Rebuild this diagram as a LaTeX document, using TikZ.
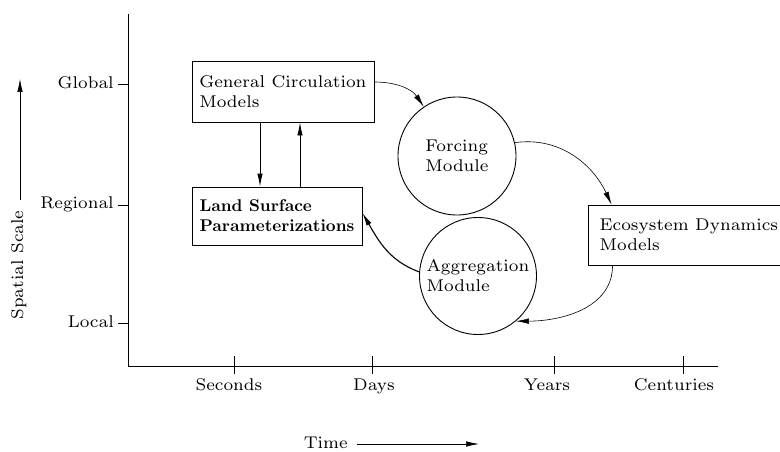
\documentclass[tikz,border=0pt]{standalone}
\usetikzlibrary{arrows.meta}
\DeclareFontFamily{OT1}{cmw}{}
\DeclareFontShape{OT1}{cmw}{m}{n}{<-> cmr7}{}
\DeclareFontShape{OT1}{cmw}{bx}{n}{<-> cmbx10}{}
\newcommand{\wfont}{\fontencoding{OT1}\fontfamily{cmw}\fontseries{m}\fontsize{17}{20}\selectfont}
\begin{document}
\begin{tikzpicture}[x=1pt,y=1pt,
  lbl/.style={font=\wfont, inner sep=0pt},
  box/.style={draw, line width=0.9pt, font=\wfont, align=left, inner sep=0pt},
  mod/.style={draw, circle, line width=0.9pt, font=\wfont, align=left, inner sep=0pt},
  arr/.style={-{Latex[length=13pt,width=5.5pt]}, line width=0.6pt},
  axis/.style={line width=0.9pt}]
\clip (0,0) rectangle (780,451);
% axes
\coordinate (yt) at (128,437);
\coordinate (o) at (128,85);
\coordinate (xe) at (718,85);
\draw[axis] (yt) -- (o) -- (xe);
% y ticks
\coordinate (tg) at (128,367);
\coordinate (tr) at (128,246);
\coordinate (tl) at (128,128);
\draw[axis] (tg) -- ++(-10,0);
\draw[axis] (tr) -- ++(-10,0);
\draw[axis] (tl) -- ++(-10,0);
\node[lbl, anchor=east] (lg) at (114,368) {Global};
\node[lbl, anchor=east] (lr) at (114,247) {Regional};
\node[lbl, anchor=east] (ll) at (114,129) {Local};
% x ticks
\coordinate (ts) at (234,85);
\coordinate (td) at (372,85);
\coordinate (ty) at (554,85);
\coordinate (tc) at (683,85);
\foreach \t in {ts,td,ty,tc} \draw[axis] ([yshift=10pt]\t) -- ([yshift=-8pt]\t);
\node[lbl, anchor=base] (ls) at (229,61) {Seconds};
\node[lbl, anchor=base] (ld) at (374,61) {Days};
\node[lbl, anchor=base] (ly) at (547,61) {Years};
\node[lbl, anchor=base] (lc) at (674,61) {Centuries};
% axis titles
\node[lbl, rotate=90] (ss) at (19,186) {Spatial Scale};
\coordinate (sa) at (20,251);
\coordinate (sb) at (20,372);
\draw[arr] (sa) -- (sb);
\node[lbl, anchor=east] (tm) at (348,8) {Time};
\coordinate (ta) at (357,7);
\coordinate (tb) at (479,7);
\draw[arr] (ta) -- (tb);
% boxes
\node[box, minimum width=182pt, minimum height=61pt] (gcm) at (283,359.5) {General Circulation\\Models};
\node[box, minimum width=170pt, minimum height=58pt, font=\wfont\bfseries] (lsp) at (277,235) {Land Surface\\Parameterizations};
\node[box, minimum width=202pt, minimum height=60pt] (eco) at (689,216) {Ecosystem Dynamics\\Models};
\node[mod, minimum size=118pt] (forc) at (457,295) {Forcing\\Module};
\node[mod, minimum size=117pt] (aggr) at (478,175) {Aggregation\\Module};
% vertical arrows
\coordinate (dx) at (260,0);
\coordinate (ux) at (300,0);
\draw[arr, line width=0.9pt] (dx |- gcm.south) -- (dx |- lsp.north);
\draw[arr, line width=0.9pt] (ux |- lsp.north) -- (ux |- gcm.south);
% curved connectors
\draw[arr] ([yshift=9.5pt]gcm.east) to[out=0, in=124] (forc.124);
\draw[arr] (forc.13) to[out=8, in=115] ([xshift=24pt]eco.north west);
\draw[arr] ([xshift=25pt]eco.south west) to[out=-90, in=0] (aggr.-50);
\draw[arr, line width=1.1pt] (aggr.176) to[out=160, in=-60] ([yshift=3pt]lsp.east);
\end{tikzpicture}
\end{document}
